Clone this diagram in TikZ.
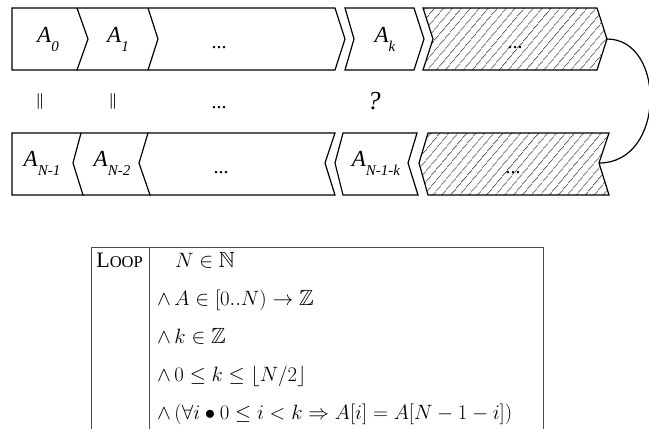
\documentclass[tikz,border=0pt]{standalone}
\usepackage{amssymb}
\usepackage{fontspec}
\setmainfont{Liberation Serif}
\usetikzlibrary{patterns,patterns.meta}
\tikzset{
  cell/.style={draw=black, line width=1.2pt, line join=miter},
  hatch/.style={cell, pattern={Lines[angle=50, distance=6.5pt, line width=0.6pt]}},
  lbl/.style={inner sep=0pt, font=\fontsize{23}{23}\selectfont\itshape},
  eq/.style={inner sep=0pt, font=\fontsize{17}{17}\selectfont},
  dots/.style={inner sep=0pt, font=\fontsize{20}{20}\selectfont},
  tline/.style={draw=black!70, line width=0.9pt},
  row/.style={anchor=base west, inner sep=0pt, font=\fontsize{22}{22}\selectfont}
}
\newcommand{\Sb}[2]{#1\raisebox{-9pt}{\fontsize{15}{15}\selectfont #2}}
\begin{document}
\begin{tikzpicture}[x=1pt,y=-1pt]
\useasboundingbox (0,0) rectangle (649,429);
% top row
\draw[cell] (12,8) -- (77,8) -- (88,39) -- (77,70) -- (12,70) -- cycle;
\draw[cell] (77,8) -- (148,8) -- (158,39) -- (148,70) -- (77,70);
\draw[cell] (148,8) -- (335,8) -- (345,39) -- (335,70) -- (148,70);
\draw[cell] (345,8) -- (414,8) -- (424,39) -- (414,70) -- (345,70) -- (354,39) -- cycle;
\draw[hatch] (423,8) -- (597,8) -- (607,39) coordinate (tip) -- (597,70) -- (423,70) -- (433,39) -- cycle;
% bottom row
\draw[cell] (12,133) -- (81,133) -- (73,163) -- (83,195) -- (12,195) -- cycle;
\draw[cell] (81,133) -- (148,133) -- (139,163) -- (150,195) -- (83,195);
\draw[cell] (148,133) -- (335,133) -- (325,163) -- (335,195) -- (150,195);
\draw[cell] (343,133) -- (417,133) -- (408,163) -- (418,195) -- (343,195) -- (335,163) -- cycle;
\draw[hatch] (428,133) -- (609,133) -- (599,163) coordinate (notch) -- (609,195) -- (428,195) -- (419,163) -- cycle;
% connector
\draw[line width=1.2pt] (tip) .. controls (666,39) and (666,163) .. (notch);
% labels top
\node[lbl] (a0) at (48,39) {\Sb{A}{0}};
\node[lbl] (a1) at (118,39) {\Sb{A}{1}};
\node[dots] (d1) at (219,48) {...};
\node[lbl] (ak) at (385,39) {\Sb{A}{k}};
\node[dots] (d2) at (515,48) {...};
% middle
\node[eq] (e0) at (40,101) {||};
\node[eq] (e1) at (113,101) {||};
\node[dots] (d3) at (219,108) {...};
\node[inner sep=0pt, font=\fontsize{26}{26}\selectfont\itshape] (q) at (374,101) {?};
% bottom labels
\node[lbl] (b0) at (42,163) {\Sb{A}{N-1}};
\node[lbl] (b1) at (112,163) {\Sb{A}{N-2}};
\node[dots] (d4) at (221,173) {...};
\node[lbl] (bk) at (376,163) {\Sb{A}{N-1-k}};
\node[dots] (d5) at (513,173) {...};
% table
\draw[tline] (91,429) -- (91,247) -- (543,247) -- (543,429);
\draw[tline] (149,247) -- (149,429);
\node[row, anchor=base east] (loop) at (143,267) {L{\fontsize{16.5}{16.5}\selectfont OOP}};
\node[row] (r1) at (175,267) {$N \in \mathbb{N}$};
\node[row] (r2) at (157,305) {$\wedge\, A \in [0..N) \rightarrow \mathbb{Z}$};
\node[row] (r3) at (157,343) {$\wedge\, k \in \mathbb{Z}$};
\node[row] (r4) at (157,381) {$\wedge\, 0 \leq k \leq \lfloor N/2 \rfloor$};
\node[row] (r5) at (157,419) {$\wedge\, (\forall i \bullet 0 \leq i < k \Rightarrow A[i] = A[N-1-i])$};
\end{tikzpicture}
\end{document}
